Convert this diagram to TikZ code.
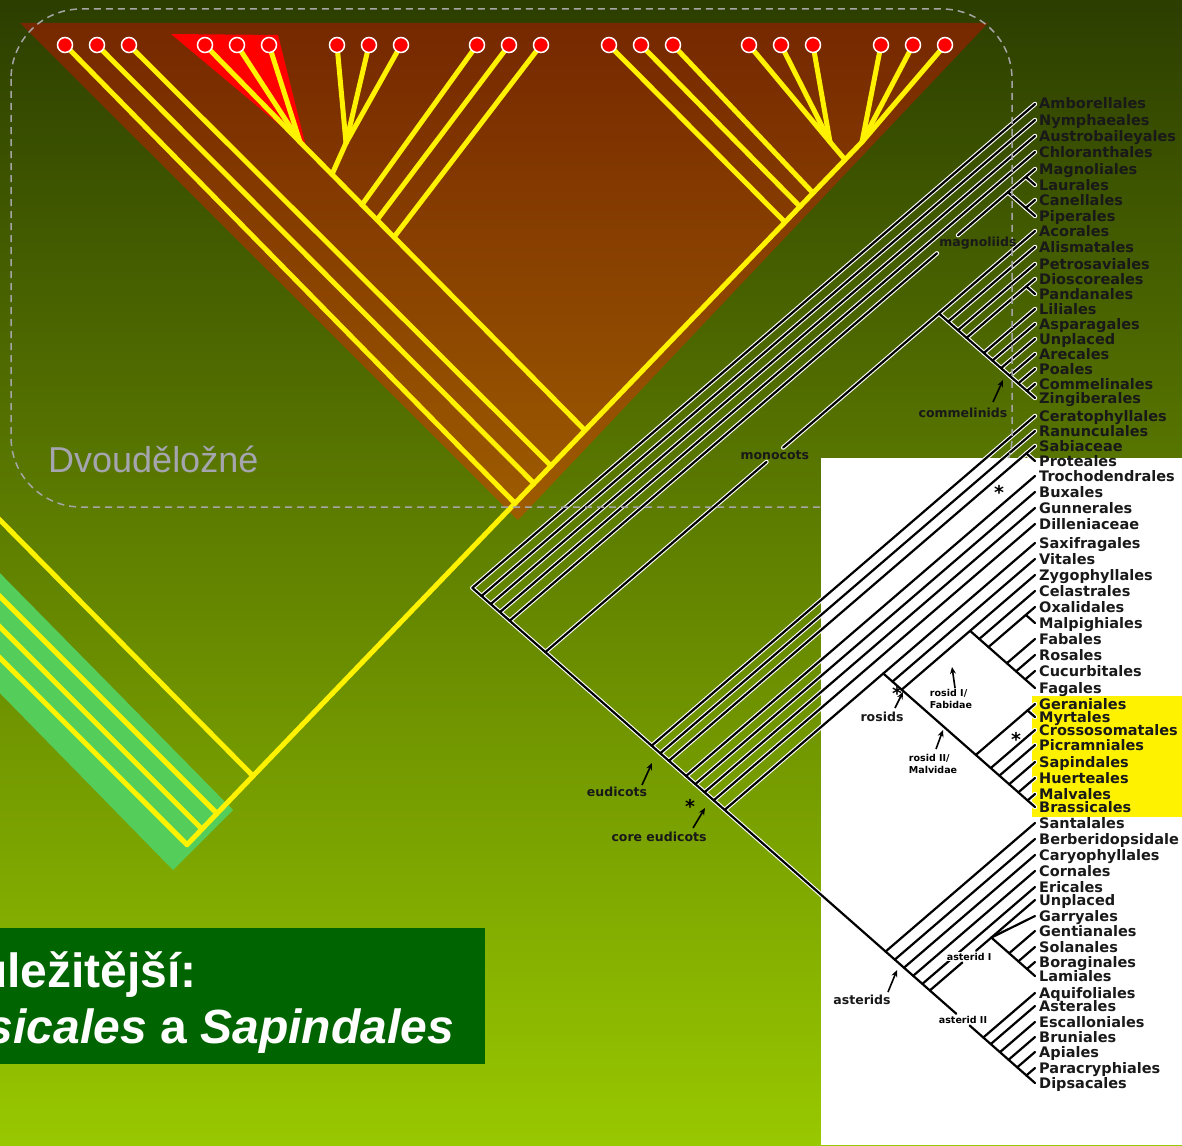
\documentclass[tikz,border=0pt]{standalone}
\usepackage{fontspec}
\setmainfont{DejaVu Sans}
\newfontfamily\libsans{Liberation Sans}
\usetikzlibrary{calc,arrows.meta}
\definecolor{bgtop}{RGB}{44,62,0}
\definecolor{bgmid}{RGB}{118,158,0}
\definecolor{bgbot}{RGB}{152,200,0}
\definecolor{brtop}{RGB}{118,40,0}
\definecolor{brbot}{RGB}{158,92,0}
\definecolor{band}{RGB}{85,205,90}
\definecolor{boxgreen}{RGB}{0,100,0}
\definecolor{dvgray}{RGB}{165,165,175}
\definecolor{dashgray}{RGB}{165,165,165}
\definecolor{txt}{RGB}{25,25,25}
\newcommand\cl[3]{\coordinate (#1) at ({1035-(#3-#2)/1.74},{#2+0.86*(#3-#2)/1.74});}
\tikzset{
 yl/.style={draw=yellow, line width=5pt, line cap=round, line join=round},
 circ/.style={circle, fill=red, draw=white, line width=1.5pt, minimum size=15pt, inner sep=0pt},
 halo/.style={draw=white, line width=4.4pt, line cap=round},
 blk/.style={draw=black, line width=2.2pt, line cap=round},
 lab/.style={font=\fontsize{14.5}{14.5}\selectfont\bfseries, text=txt, inner sep=0pt},
 sl/.style={font=\fontsize{12.5}{12.5}\selectfont\bfseries, text=txt, inner sep=1.5pt},
 ss/.style={font=\fontsize{9.5}{11.5}\selectfont\bfseries, inner sep=1.5pt},
 arr/.style={draw=black, line width=1.6pt, -{Stealth[length=7pt,width=6pt]}},
 astk/.style={font=\fontsize{19}{19}\selectfont\bfseries, inner sep=0pt},
}
\def\tiplist{1/104/Amborellales,2/120/Nymphaeales,3/136/Austrobaileyales,4/152/Chloranthales,5/169/Magnoliales,6/185/Laurales,7/200/Canellales,8/216/Piperales,9/231/Acorales,10/247/Alismatales,11/264/Petrosaviales,12/279/Dioscoreales,13/294/Pandanales,14/309/Liliales,15/324/Asparagales,16/339/Unplaced,17/354/Arecales,18/369/Poales,19/384/Commelinales,20/398/Zingiberales,21/416/Ceratophyllales,22/431/Ranunculales,23/446/Sabiaceae,24/461/Proteales,25/476/Trochodendrales,26/492/Buxales,27/508/Gunnerales,28/524/Dilleniaceae,29/543/Saxifragales,30/559/Vitales,31/575/Zygophyllales,32/591/Celastrales,33/607/Oxalidales,34/623/Malpighiales,35/639/Fabales,36/655/Rosales,37/671/Cucurbitales,38/688/Fagales,39/704/Geraniales,40/717/Myrtales,41/730/Crossosomatales,42/745/Picramniales,43/762/Sapindales,44/778/Huerteales,45/794/Malvales,46/807/Brassicales,47/823/Santalales,48/839/Berberidopsidale,49/855/Caryophyllales,50/871/Cornales,51/887/Ericales,52/900/Unplaced,53/916/Garryales,54/931/Gentianales,55/947/Solanales,56/962/Boraginales,57/976/Lamiales,58/993/Aquifoliales,59/1006/Asterales,60/1022/Escalloniales,61/1037/Bruniales,62/1052/Apiales,63/1068/Paracryphiales,64/1083/Dipsacales}
\def\edgelist{root/t1,root/n2,n2/t2,n2/n3,n3/t3,n3/mes,mes/t4,mes/n5,n5/mgA,mgB/mag,mag/magA,mag/magB,magA/t5,magA/t6,magB/t7,magB/t8,n5/n6,n6/monolab,monolab/mono,mono/t9,mono/m2,m2/t10,m2/m3,m3/t11,m3/m4,m4/mDP,m4/m5,mDP/t12,mDP/t13,m5/t14,m5/m6,m6/t15,m6/com,com/t16,com/cA,cA/t17,cA/cB,cB/t18,cB/cC,cC/t19,cC/t20,n6/n7,n7/t21,n7/eud,eud/t22,eud/e2,e2/eSP,e2/e3,eSP/t23,eSP/t24,e3/t25,e3/e4,e4/t26,e4/core,core/t27,core/k2,k2/t28,k2/k3,k3/sros,k3/k4,sros/t29,sros/ros,ros/t30,ros/fm,fm/fab,fm/mal,fab/t31,fab/f2,f2/t32,f2/f3,f3/fOM,f3/fN,fOM/t33,fOM/t34,fN/t35,fN/fN2,fN2/t36,fN2/fN3,fN3/t37,fN3/t38,mal/mGM,mal/mv2,mGM/t39,mGM/t40,mv2/t41,mv2/mv3,mv3/t42,mv3/mv4,mv4/t43,mv4/mv5,mv5/t44,mv5/mv6,mv6/t45,mv6/t46,k4/t47,k4/k5,k5/t48,k5/k6,k6/t49,k6/ast,ast/t50,ast/a2,a2/t51,a2/a3,a3/a1lab,a1lab/lam,a3/a2lab,a2lab/cam,lam/t52,lam/t53,lam/l2,l2/t54,l2/l3,l3/t55,l3/l4,l4/t56,l4/t57,cam/t58,cam/cp2,cp2/t59,cp2/cp3,cp3/t60,cp3/cp4,cp4/t61,cp4/cp5,cp5/t62,cp5/cp6,cp6/t63,cp6/t64}
\begin{document}
\begin{tikzpicture}[x=1pt,y=-1pt]
\useasboundingbox (0,0) rectangle (1182,1145);
% background
\shade[top color=bgtop, middle color=bgmid, bottom color=bgbot] (0,0) rectangle (1182,1145);
\fill[band] (-10,563) -- (233,810) -- (173,870) -- (-10,683) -- cycle;
\shade[top color=brtop, bottom color=brbot] (20,23) -- (988,23) -- (518,520) -- cycle;
\fill[red] (171,34) -- (278,35) -- (306,147) -- cycle;
% yellow tree
\foreach \i/\x in {1/65,2/97,3/129,4/205,5/237,6/269,7/337,8/369,9/401,10/477,11/509,12/541,13/609,14/641,15/673,16/749,17/781,18/813,19/881,20/913,21/945}
  {\coordinate (rc\i) at (\x,45);}
\coordinate (ys0) at (187,844.7);
\coordinate (ys1) at (202,829.1);
\coordinate (ys2) at (217,813.5);
\coordinate (ys3) at (253,776);
\coordinate (ys4) at (515,503.3);
\coordinate (ys5) at (534,483.5);
\coordinate (ys6) at (551,465.8);
\coordinate (ys7) at (585,430.4);
\coordinate (ys8) at (785,222.2);
\coordinate (ys9) at (800,206.6);
\coordinate (ys10) at (813,193);
\coordinate (ys11) at (845,159.7);
\coordinate (ys12) at (862,142);
\coordinate (yr) at (300,142);
\coordinate (yg2) at (346,143);
\coordinate (yg2b) at (332,174.4);
\coordinate (yr1) at (362,204.7);
\coordinate (yr2) at (377,219.9);
\coordinate (yr3) at (394,237.1);
\coordinate (yg6) at (830,142);
\coordinate (ye0) at (-10,510);
\coordinate (ye1) at (-10,586.5);
\coordinate (ye2) at (-10,617);
\coordinate (ye3) at (-10,648);
\foreach \a/\b in {ys0/ys12,ye0/ys3,ye1/ys2,ye2/ys1,ye3/ys0,rc1/ys4,rc2/ys5,rc3/ys6,rc4/yr,rc5/yr,rc6/yr,yr/ys7,rc7/yg2,rc8/yg2,rc9/yg2,yg2/yg2b,rc10/yr1,rc11/yr2,rc12/yr3,rc13/ys8,rc14/ys9,rc15/ys10,rc16/yg6,rc17/yg6,rc18/yg6,yg6/ys11,rc19/ys12,rc20/ys12,rc21/ys12}
  {\draw[yl] (\a) -- (\b);}
\foreach \i in {1,...,21} {\node[circ] (dot\i) at (rc\i) {};}
% white image area
\fill[white] (821,458) rectangle (1182,1145);
\fill[yellow] (1032,696) rectangle (1182,817);
% tree coordinates
\foreach \i/\y/\n in \tiplist {\coordinate (t\i) at (1035,\y);}
\cl{root}{104}{1083}
\cl{n2}{120}{1083}
\cl{n3}{136}{1083}
\cl{mes}{152}{1083}
\cl{n5}{169}{1083}
\cl{mag}{169}{216}
\cl{magA}{169}{185}
\cl{magB}{200}{216}
\cl{n6}{231}{1083}
\cl{mono}{231}{398}
\cl{m2}{247}{398}
\cl{m3}{264}{398}
\cl{m4}{279}{398}
\cl{mDP}{279}{294}
\cl{m5}{309}{398}
\cl{m6}{324}{398}
\cl{com}{339}{398}
\cl{cA}{354}{398}
\cl{cB}{369}{398}
\cl{cC}{384}{398}
\cl{n7}{416}{1083}
\cl{eud}{431}{1083}
\cl{e2}{446}{1083}
\cl{eSP}{446}{461}
\cl{e3}{476}{1083}
\cl{e4}{492}{1083}
\cl{core}{508}{1083}
\cl{k2}{524}{1083}
\cl{k3}{543}{1083}
\cl{sros}{543}{807}
\cl{ros}{559}{807}
\cl{fm}{575}{807}
\cl{fab}{575}{688}
\cl{f2}{591}{688}
\cl{f3}{607}{688}
\cl{fOM}{607}{623}
\cl{fN}{639}{688}
\cl{fN2}{655}{688}
\cl{fN3}{671}{688}
\cl{mal}{704}{807}
\cl{mGM}{704}{717}
\cl{mv2}{730}{807}
\cl{mv3}{745}{807}
\cl{mv4}{762}{807}
\cl{mv5}{778}{807}
\cl{mv6}{794}{807}
\cl{k4}{823}{1083}
\cl{k5}{839}{1083}
\cl{k6}{855}{1083}
\cl{ast}{871}{1083}
\cl{a2}{887}{1083}
\cl{a3}{900}{1083}
\cl{lam}{900}{976}
\cl{l2}{931}{976}
\cl{l3}{947}{976}
\cl{l4}{962}{976}
\cl{cam}{993}{1083}
\cl{cp2}{1006}{1083}
\cl{cp3}{1022}{1083}
\cl{cp4}{1037}{1083}
\cl{cp5}{1052}{1083}
\cl{cp6}{1068}{1083}
\coordinate (mgA) at ($(n5)!0.8575!(mag)$);
\coordinate (mgB) at ($(n5)!0.8997!(mag)$);
\node[sl, inner sep=2.5pt] (monolab) at ($(n6)!0.583!(mono)$) {monocots};
\node[ss, inner sep=2pt] (a1lab) at ($(a3)!0.64!(lam)$) {\phantom{asterid I}};
\node[ss, inner sep=2pt] (a2lab) at ($(a3)!0.62!(cam)$) {asterid II};
% tree lines
\foreach \a/\b in \edgelist {\draw[halo] (\a) -- (\b);}
\foreach \a/\b in \edgelist {\draw[blk] (\a) -- (\b);}
\node[ss, fill=white, inner sep=1pt] (a1txt) at (a1lab) {asterid I};
% dashed frame
\begin{scope}
\clip (0,0) rectangle (821,1145) (821,0) rectangle (1182,458);
\draw[dashgray, dash pattern=on 7pt off 5pt, line width=1.5pt, rounded corners=70pt] (11,9) rectangle (1012,507);
\end{scope}
% tip labels
\foreach \i/\y/\n in \tiplist {\node[lab, anchor=base west] (L\i) at (1039,\y+5) {\n};}
% clade labels
\node[sl] (magnolab) at (978,243) {magnoliids};
\node[sl] (commlab) at (963,413) {commelinids};
\node[sl] (eudlab) at (617,792) {eudicots};
\node[sl] (corelab) at (659,837) {core eudicots};
\node[sl] (roslab) at (882,717) {rosids};
\node[sl] (astlab) at (862,1000) {asterids};
\node[ss, align=left] (r1lab) at (951,699) {rosid I/\\Fabidae};
\node[ss, align=left] (r2lab) at (933,764) {rosid II/\\Malvidae};
% arrows
\coordinate (w1s) at (993,402); \coordinate (w1e) at (1003,380);
\coordinate (w2s) at (642,785); \coordinate (w2e) at (652,763);
\coordinate (w3s) at (693,828); \coordinate (w3e) at (705,808);
\coordinate (w4s) at (895,708); \coordinate (w4e) at (903,692);
\coordinate (w5s) at (955,688); \coordinate (w5e) at (952,667);
\coordinate (w6s) at (936,749); \coordinate (w6e) at (943,730);
\coordinate (w7s) at (888,992); \coordinate (w7e) at (897,970);
\foreach \k in {1,...,7} {\draw[arr] (w\k s) -- (w\k e);}
% asterisks
\node[astk] (st1) at (999,492) {*};
\node[astk] (st2) at (690,806) {*};
\node[astk] (st3) at (897,693) {*};
\node[astk] (st4) at (1016,739) {*};
% bottom box
\fill[boxgreen] (0,928) rectangle (485,1064);
\node[anchor=base east, text=white, font=\libsans\bfseries\fontsize{48}{48}\selectfont, inner sep=0pt] (bx1) at (197,987) {ůležitější:};
\node[anchor=base east, text=white, font=\libsans\bfseries\fontsize{48}{48}\selectfont, inner sep=0pt] (bx2) at (454,1043) {\itshape sicales\/ \upshape a \itshape Sapindales};
\node[anchor=base west, text=dvgray, font=\libsans\fontsize{36}{36}\selectfont, inner sep=0pt] (dv) at (48,472) {Dvouděložné};
\end{tikzpicture}
\end{document}
